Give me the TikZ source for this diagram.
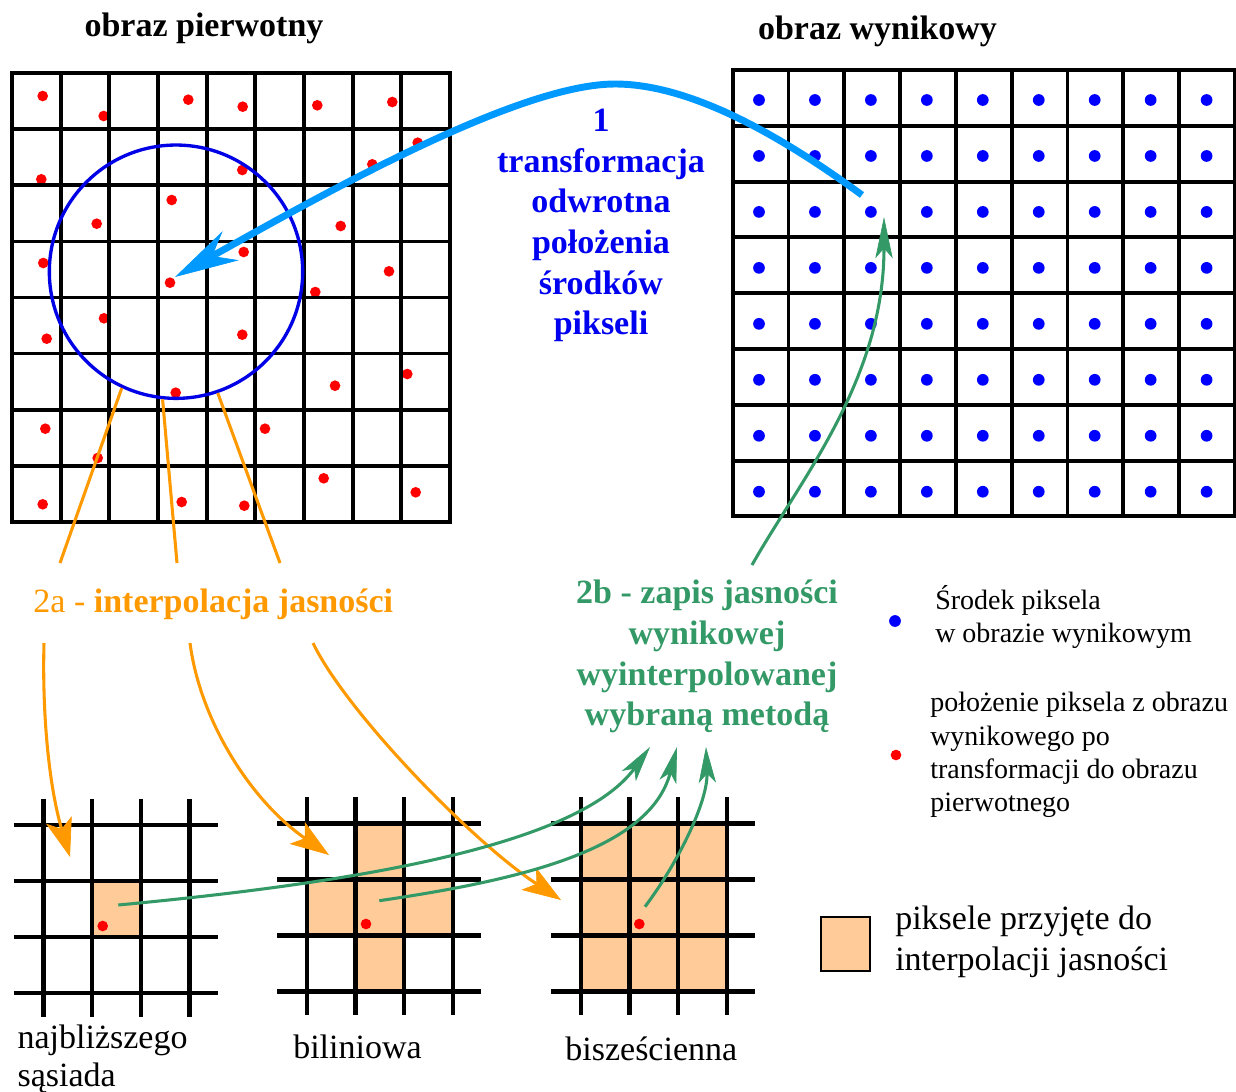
\documentclass[tikz,border=0pt]{standalone}
\usepackage{fontspec}
\setmainfont{Liberation Serif}
\usetikzlibrary{arrows.meta}
\definecolor{cyanc}{RGB}{0,153,255}
\definecolor{circblue}{RGB}{0,0,230}
\definecolor{txtblue}{RGB}{0,0,240}
\definecolor{orng}{RGB}{255,153,0}
\definecolor{grn}{RGB}{51,153,102}
\definecolor{peach}{RGB}{255,204,153}
\definecolor{dotred}{RGB}{255,0,0}
\definecolor{dotblue}{RGB}{0,0,255}
\newcommand\fsBig{\fontsize{25.5}{30.5}\selectfont}
\newcommand\fsSmall{\fontsize{21}{25}\selectfont}
\begin{document}
\begin{tikzpicture}[x=0.75pt,y=-0.75pt,
  gridbig/.style={line width=2.9pt, line cap=rect},
  gridsmall/.style={line width=3.3pt},
  rdot/.style={circle, fill=dotred, inner sep=0pt, minimum size=8pt},
  bdot/.style={circle, fill=dotblue, inner sep=0pt, minimum size=8.8pt},
  cyanline/.style={draw=cyanc, line width=5.2pt, -{Stealth[length=48pt,width=25pt,inset=16pt,line width=0.5pt]}},
  orline/.style={draw=orng, line width=2.3pt},
  orarrow/.style={orline, -{Stealth[length=29pt,width=20pt,inset=7pt,line width=0.5pt]}},
  grnarrow/.style={draw=grn, line width=2.3pt, -{Stealth[length=27pt,width=13pt,inset=7pt,line width=0.5pt]}},
  txt/.style={inner sep=0pt, font=\fsBig},
  btxt/.style={inner sep=0pt, font=\fsBig\bfseries},
  stxt/.style={inner sep=0pt, font=\fsSmall, anchor=west, align=left},
]
\useasboundingbox (0,0) rectangle (1236,1092);

% ---------- left grid: red dots (below the lines) ----------
\foreach \px/\py [count=\k] in {42.7/96, 103.7/116, 188.3/99.7, 242.7/106.7, 317.3/105.3, 392.3/102,
  417.7/142.7, 372.3/164.3, 41.3/179.3, 242.3/170, 171.7/200, 96.7/223.7, 340.7/226, 43.3/263,
  243.7/252, 389/271.3, 170/282.7, 315.3/292, 104/318.3, 46.7/338.7, 242.3/334.7, 407.3/374,
  335/385.7, 175.7/392.7, 45.3/428.7, 265/428.7, 97.7/458, 323.7/478.3, 415.7/492.3, 42.7/504.3,
  181.7/502, 244.3/505.7}
  \node[rdot] (r\k) at (\px,\py) {};
\foreach \i in {0,...,9} \draw[gridbig] ({12+\i*48.67},73.3) -- ({12+\i*48.67},521.7);
\foreach \j in {0,...,8} \draw[gridbig] (12,{73.3+\j*56.05}) -- (450,{73.3+\j*56.05});

% ---------- right grid ----------
\foreach \i in {0,...,8} \foreach \j in {0,...,7}
  \node[bdot] (b-\i-\j) at ({759+\i*55.95},{100+\j*55.96}) {};
\foreach \i in {0,...,9} \draw[gridbig] ({732.7+\i*55.8},70) -- ({732.7+\i*55.8},516.4);
\foreach \j in {0,...,8} \draw[gridbig] (732.7,{70+\j*55.8}) -- (1234.9,{70+\j*55.8});

% ---------- titles ----------
\node[btxt] (title1) at (204,28.8) {obraz pierwotny};
\node[btxt] (title2) at (877.5,31.5) {obraz wynikowy};

% ---------- circle ----------
\node[draw=circblue, line width=2.5pt, circle, minimum size=190pt, inner sep=0pt] (circ) at (176,271.7) {};

% ---------- step 1 arrow ----------
\coordinate (cyS) at (862,195);
\coordinate (cyP) at (615,84);
\coordinate (cyT) at (175,277);
\draw[cyanline] (cyS) .. controls (780,135) and (690,84) .. (cyP) .. controls (520,84) and (330,190) .. (cyT);

\node[btxt, text=txtblue, align=center] (t1) at (601,225.5)
  {1\\transformacja\\odwrotna\\położenia\\środków\\pikseli};

% ---------- step 2a ----------
\node[txt, text=orng] (t2a) at (213.3,604.7) {2a - \textbf{interpolacja jasności}};
\coordinate (oa) at (60,563);
\coordinate (ob) at (177,563);
\coordinate (oc) at (280,563);
\draw[orline] (circ.245.5) -- (oa);
\draw[orline] (circ.264.6) -- (ob);
\draw[orline] (circ.289.4) -- (oc);

% ---------- bottom grids ----------
\begin{scope}[shift={(43.3,825)}]
  \fill[peach] (48.7,56) rectangle (97.4,112);
  \foreach \i in {0,...,3} \draw[gridsmall] ({\i*48.7},-26.3) -- ({\i*48.7},191.5);
  \foreach \j in {0,...,3} \draw[gridsmall] (-29.6,{\j*56}) -- (174.7,{\j*56});
\end{scope}
\begin{scope}[shift={(306.7,823.3)}]
  \fill[peach] (48.7,0) rectangle (97.4,56);
  \fill[peach] (0,56) rectangle (146.1,112);
  \fill[peach] (48.7,112) rectangle (97.4,168);
  \foreach \i in {0,...,3} \draw[gridsmall] ({\i*48.7},-26.3) -- ({\i*48.7},191.5);
  \foreach \j in {0,...,3} \draw[gridsmall] (-29.6,{\j*56}) -- (174.7,{\j*56});
\end{scope}
\begin{scope}[shift={(580.7,823.3)}]
  \fill[peach] (0,0) rectangle (146.1,168);
  \foreach \i in {0,...,3} \draw[gridsmall] ({\i*48.7},-26.3) -- ({\i*48.7},191.5);
  \foreach \j in {0,...,3} \draw[gridsmall] (-29.6,{\j*56}) -- (174.7,{\j*56});
\end{scope}
\node[rdot] (rn) at (102.7,926) {};
\node[rdot] (rb) at (366,924) {};
\node[rdot] (rc) at (639.3,924) {};

% orange arrows down
\coordinate (oa0) at (44,643);   \coordinate (oaT) at (70,857);
\coordinate (ob0) at (190,643);  \coordinate (obT) at (329,855);
\coordinate (oc0) at (313,643);  \coordinate (ocT) at (561,900);
\draw[orarrow] (oa0) .. controls (42,720) and (50,790) .. (oaT);
\draw[orarrow] (ob0) .. controls (200,720) and (250,800) .. (obT);
\draw[orarrow] (oc0) .. controls (345,710) and (470,840) .. (ocT);

% ---------- step 2b ----------
\node[btxt, text=grn, align=center] (t2b) at (707,656.6)
  {2b - zapis jasności\\wynikowej\\wyinterpolowanej\\wybraną metodą};
\coordinate (g1s) at (118.3,905);  \coordinate (g1t) at (650,747);
\coordinate (g2s) at (379.3,900.7); \coordinate (g2t) at (677,747);
\coordinate (g3s) at (645,906.7);  \coordinate (g3t) at (706,747);
\draw[grnarrow] (g1s) .. controls (330,885) and (575,850) .. (g1t);
\draw[grnarrow] (g2s) .. controls (520,880) and (650,850) .. (g2t);
\draw[grnarrow] (g3s) .. controls (680,860) and (708,800) .. (g3t);
\coordinate (g0s) at (752,565);
\coordinate (g0t) at (884,217);
\draw[grnarrow, -{Stealth[length=31pt,width=13pt,inset=7.5pt,line width=0.5pt]}] (g0s) .. controls (800,480) and (884,380) .. (g0t);

% ---------- method labels ----------
\node[txt, anchor=west, align=left, font=\fontsize{25.5}{28.8}\selectfont] (lnn) at (17.3,1059) {najbliższego\\sąsiada};
\node[txt] (lbl) at (357.5,1047) {biliniowa};
\node[txt] (lbc) at (651.3,1048.7) {bisześcienna};

% ---------- legend ----------
\node[bdot] (legb) at (895,621) {};
\node[stxt] (legbt) at (935,617) {Środek piksela\\w obrazie wynikowym};
\node[rdot] (legr) at (896,755) {};
\node[stxt] (legrt) at (930,755.2) {położenie piksela z obrazu\\wynikowego po\\transformacji do obrazu\\pierwotnego};
\node[draw, fill=peach, line width=1.5pt, minimum width=36.8pt, minimum height=40.5pt, inner sep=0pt] (swatch) at (845.5,944) {};
\node[txt, anchor=west, align=left] (swt) at (895,942) {piksele przyjęte do\\interpolacji jasności};
\end{tikzpicture}
\end{document}
